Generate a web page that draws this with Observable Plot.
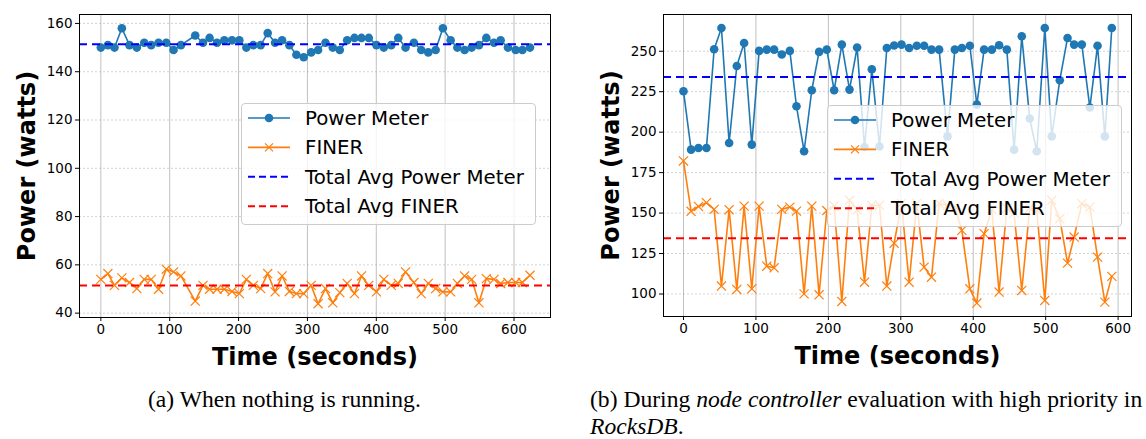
<!DOCTYPE html>
<html><head><meta charset="utf-8">
<script src="https://cdn.jsdelivr.net/npm/d3@7"></script>
<script src="https://cdn.jsdelivr.net/npm/@observablehq/plot@0.6"></script>
<style>
body{margin:0;background:#fff;}
#root{position:relative;width:1146px;height:439px;overflow:hidden;background:#fff;}
.panel{position:absolute;top:0;}
.legend{position:absolute;background:rgba(255,255,255,0.8);border:1px solid #cccccc;border-radius:4px;box-sizing:border-box;}
.cap{position:absolute;font-family:"Liberation Serif","Times New Roman",serif;font-size:23.6px;color:#000;white-space:nowrap;line-height:27px;}
</style></head><body><div id="root"></div><script>
// ---------- data ----------
const xTicks = [0, 100, 200, 300, 400, 500, 600];
const leftYTicks = [40, 60, 80, 100, 120, 140, 160];
const rightYTicks = [100, 125, 150, 175, 200, 225, 250];
const legendLabels = ["Power Meter", "FINER", "Total Avg Power Meter", "Total Avg FINER"];
const xLabel = "Time (seconds)";
const yLabel = "Power (watts)";

const leftTime = [0, 10.2, 19.8, 30.5, 41.6, 52.3, 63, 73.1, 83.8, 95, 105.6, 116.3, 137.1, 148.3, 157.9, 168.7, 179.3, 190.5, 201.1, 211.3, 221.5, 232.1, 242.3, 253, 263.2, 273.8, 284, 294.6, 305.4, 315.5, 326.2, 336.8, 347, 357.7, 368.3, 378.5, 389.1, 400.3, 410.9, 421.7, 431.9, 442.5, 454.6, 465.3, 475.5, 486.2, 496.7, 508, 517.7, 528.3, 538.5, 549.1, 559.8, 570.9, 580.6, 591.2, 602.4, 612.2, 623.2];
const leftPowerMeter = [150, 151, 150, 158, 151, 150, 152, 151, 152, 152, 149, 151, 155, 152, 154, 152, 153, 153, 153, 150, 151, 151, 156, 152, 153, 151, 147, 146, 148, 149, 152, 150, 149, 153, 154, 154, 154, 151, 150, 151, 154, 150, 152, 149, 148, 149, 158, 153, 150, 149, 150, 151, 154, 152, 153, 150, 149, 149, 150];
const leftFiner = [54.0, 56.4, 51.5, 54.6, 52.7, 50.2, 54, 54, 49.9, 58.2, 57.1, 55.4, 45, 51.5, 49.9, 49.9, 49.9, 49, 48.1, 54, 51.5, 50.2, 56.4, 48.8, 55.4, 49, 48.1, 48.1, 51.5, 43.9, 50.2, 44.3, 48.5, 52.3, 48.1, 55.4, 51.5, 48.8, 54, 51.5, 52.3, 57.1, 52.7, 48.1, 52.3, 50.2, 48.8, 48.8, 52.3, 55.4, 54, 44.3, 54.3, 54, 52.3, 52.7, 52.7, 52.7, 55.7];
const leftAvg = [151.4, 51.5];

const rightTime = [0, 10.5, 20.7, 31.7, 42.3, 52.4, 63, 73.6, 83.7, 94.3, 104.4, 115, 125.1, 135.7, 146.8, 156, 166.5, 177.1, 187.2, 197.8, 208, 218.6, 229.2, 239.7, 249.9, 260, 270.6, 280.7, 290.8, 301, 311.5, 322.1, 332.2, 342.4, 352.9, 364.5, 374.6, 384.3, 395.3, 405, 415, 425.7, 435.7, 446.4, 456.4, 467, 478, 487.7, 498.8, 508.4, 519.5, 530.2, 539.3, 549.9, 561, 571.6, 581.7, 591.3];
const rightPowerMeter = [225.3, 189.2, 190.2, 190.2, 251.2, 264.4, 193.3, 240.9, 255.1, 192.3, 250.2, 251, 251, 248, 250.2, 216, 188.2, 225.9, 249.6, 251, 225.9, 254.1, 226.3, 252.3, 190.8, 238.9, 191.1, 252, 253.5, 254.1, 252, 253.4, 253.4, 251, 251, 197.4, 251, 252, 253.4, 217, 251, 251, 253.7, 251, 189.2, 259.3, 208.4, 188.2, 264.4, 197.4, 232.1, 258.2, 254.1, 254.1, 215.2, 253.4, 197.4, 264.4];
const rightFiner = [182.2, 151.1, 154.1, 156.4, 152.3, 104.9, 152.1, 102.8, 154.3, 103.2, 154.3, 117.2, 116.2, 152.3, 153.7, 151.2, 100.1, 154.3, 99.5, 151.6, 154.5, 95.4, 157.9, 152, 107.3, 154.8, 154.8, 104.9, 131.4, 156, 107.3, 156, 116.6, 110.4, 156, 154.8, 154, 139.3, 103.2, 94.4, 137.3, 152, 101.2, 153, 150, 102.2, 153, 152, 96, 157.9, 146.5, 119.1, 135.2, 155.8, 153.7, 122.8, 95, 110.9];
const rightAvg = [234.1, 134.5];

const captionA = "(a) When nothing is running.";

// ---------- drawing ----------
const BLUE = "#1f77b4", ORANGE = "#ff7f0e";
const root = document.getElementById("root");

function panel(o) {
  const data = o.time.map((t, i) => ({t, pm: o.pm[i], finer: o.finer[i]}));
  const chart = Plot.plot({
    width: o.width, height: 375,
    marginLeft: o.ml, marginRight: o.mr, marginTop: 14, marginBottom: o.mb,
    x: {domain: o.xDomain}, y: {domain: o.yDomain},
    style: {fontFamily: "'DejaVu Sans', sans-serif", fontSize: "13.5px", color: "#000", background: "transparent", overflow: "visible"},
    marks: [
      Plot.gridX(xTicks, {stroke: "#b0b0b0", strokeOpacity: 0.8, strokeWidth: 1}),
      Plot.gridY(o.yTicks, {stroke: "#b0b0b0", strokeOpacity: 0.7, strokeWidth: 0.8, strokeDasharray: "2,2"}),
      Plot.line(data, {x: "t", y: "pm", stroke: BLUE, strokeWidth: 1.6}),
      Plot.dot(data, {x: "t", y: "pm", fill: BLUE, r: 4.3, stroke: "none"}),
      Plot.line(data, {x: "t", y: "finer", stroke: ORANGE, strokeWidth: 1.6}),
      Plot.dot(data, {x: "t", y: "finer", symbol: "times", stroke: ORANGE, r: 4.2, strokeWidth: 1.2}),
      Plot.ruleY([o.avg[0]], {stroke: "#0000ff", strokeWidth: 2, strokeDasharray: "8,5"}),
      Plot.ruleY([o.avg[1]], {stroke: "#ff0000", strokeWidth: 2, strokeDasharray: "8,5"}),
      Plot.axisX(xTicks, {tickSize: 4, tickPadding: 3, label: null, tickFormat: d3.format("d")}),
      Plot.axisY(o.yTicks, {tickSize: 4, tickPadding: 3, label: null, tickFormat: d3.format("d")}),
      Plot.frame({stroke: "#000", strokeWidth: 1}),
      Plot.text([xLabel], {frameAnchor: "bottom", dy: 40, textAnchor: "middle", lineAnchor: "middle", fontSize: 24, fontWeight: "bold", fill: "#000"}),
      Plot.text([yLabel], {frameAnchor: "left", dx: -52, rotate: -90, textAnchor: "middle", lineAnchor: "middle", fontSize: 24, fontWeight: "bold", fill: "#000"})
    ]
  });
  chart.classList.add("panel");
  chart.style.left = o.left + "px";
  root.appendChild(chart);

  // legend (semi-transparent box, like matplotlib's)
  const lg = document.createElement("div");
  lg.className = "legend";
  lg.style.left = o.legend[0] + "px";
  lg.style.top = o.legend[1] + "px";
  lg.style.width = "295px";
  lg.style.height = "122px";
  const svg = d3.create("svg").attr("width", 293).attr("height", 120)
    .style("position", "absolute").style("left", "0").style("top", "0");
  const rows = [
    {stroke: BLUE, dash: null, marker: "circle"},
    {stroke: ORANGE, dash: null, marker: "x"},
    {stroke: "#0000ff", dash: "7,4", marker: null},
    {stroke: "#ff0000", dash: "7,4", marker: null}
  ];
  rows.forEach((r, i) => {
    const y = 14 + i * 29.4;
    svg.append("line").attr("x1", 6).attr("x2", 48).attr("y1", y).attr("y2", y)
      .attr("stroke", r.stroke).attr("stroke-width", r.dash ? 2 : 1.6)
      .attr("stroke-dasharray", r.dash);
    if (r.marker === "circle") svg.append("circle").attr("cx", 27).attr("cy", y).attr("r", 4.3).attr("fill", r.stroke);
    if (r.marker === "x") svg.append("path").attr("d", `M23,${y-4}L31,${y+4}M23,${y+4}L31,${y-4}`).attr("stroke", r.stroke).attr("stroke-width", 1.2);
    svg.append("text").attr("x", 63).attr("y", y).attr("dy", "0.35em")
      .attr("font-family", "'DejaVu Sans', sans-serif").attr("font-size", 19.8).attr("fill", "#000")
      .text(legendLabels[i]);
  });
  lg.appendChild(svg.node());
  root.appendChild(lg);
}

panel({left: 0, width: 580, ml: 79, mr: 30, mb: 58, time: leftTime, pm: leftPowerMeter, finer: leftFiner,
  avg: leftAvg, xDomain: [-31, 653], yDomain: [38.2, 163.7], yTicks: leftYTicks, legend: [241, 103]});
panel({left: 580, width: 566, ml: 83, mr: 15, mb: 59, time: rightTime, pm: rightPowerMeter, finer: rightFiner,
  avg: rightAvg, xDomain: [-27.6, 618.5], yDomain: [86.1, 272.7], yTicks: rightYTicks, legend: [827, 105]});

// captions
const ca = document.createElement("div");
ca.className = "cap";
ca.textContent = captionA;
ca.style.left = "148px"; ca.style.top = "386px";
root.appendChild(ca);
const cb = document.createElement("div");
cb.className = "cap";
cb.innerHTML = "(b) During <i>node controller</i> evaluation with high priority in<br><i>RocksDB</i>.";
cb.style.left = "590px"; cb.style.top = "386px";
root.appendChild(cb);
</script></body></html>
